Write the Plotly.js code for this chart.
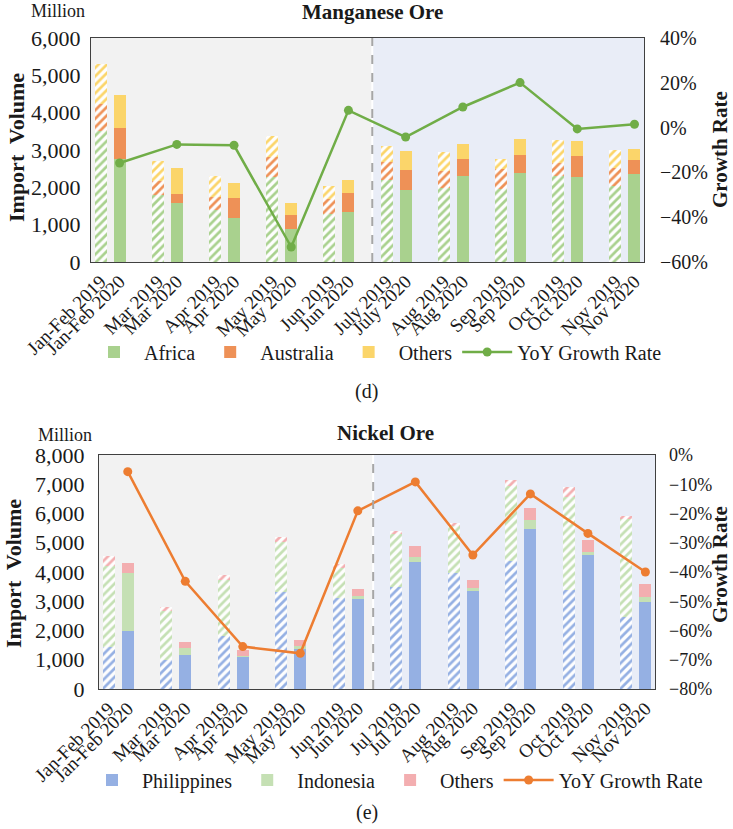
<!DOCTYPE html>
<html>
<head>
<meta charset="utf-8">
<script src="https://cdn.plot.ly/plotly-3.0.1.min.js"></script>
<style>html,body{margin:0;padding:0;background:#fff;}#chart{width:733px;height:829px;}</style>
</head>
<body>
<div id="chart"></div>
<script>
// ---------- Data ----------
var periodsMn = ["Jan-Feb","Mar","Apr","May","Jun","July","Aug","Sep","Oct","Nov"];
var periodsNi = ["Jan-Feb","Mar","Apr","May","Jun","Jul","Aug","Sep","Oct","Nov"];

// Manganese ore (million)
var africa2019    = [3500,1800,1380,2290,1280,2190,1980,1960,2300,2040];
var australia2019 = [740,360,360,530,410,490,450,540,350,490];
var othersMn2019  = [1070,540,560,550,350,430,510,260,610,480];
var africa2020    = [2760,1580,1180,890,1350,1940,2300,2390,2280,2370];
var australia2020 = [830,250,530,380,510,530,460,480,570,350];
var othersMn2020  = [870,680,410,310,330,490,410,420,390,320];
var growthMn      = [-15.8,-7.5,-7.9,-53.3,7.7,-4.2,9.2,20.1,-0.6,1.5];

// Nickel ore (million)
var phil2019     = [1420,990,1810,3320,3110,3500,3950,4380,3380,2470];
var indo2019     = [2800,1680,1910,1720,1020,1790,1620,2560,3190,3330];
var othersNi2019 = [330,150,180,150,130,110,90,210,340,110];
var phil2020     = [1990,1160,1110,1360,3070,4350,3350,5480,4580,2960];
var indo2020     = [1980,250,30,110,110,150,110,300,110,170];
var othersNi2020 = [330,180,190,210,250,400,250,420,390,450];
var growthNi     = [-5.7,-43.2,-65.5,-67.8,-19.1,-9.2,-34.2,-13.3,-26.8,-40.0];

// ---------- Helpers ----------
var FONT = "Liberation Serif";
var TXT = "#1a1a1a";
var x19 = periodsMn.map(function(_, i){ return i*3; });
var x20 = periodsMn.map(function(_, i){ return i*3 + 1; });
function tickVals(){ var v=[]; for (var i=0;i<10;i++){ v.push(i*3, i*3+1);} return v; }
function tickText(p){ var t=[]; p.forEach(function(m){ t.push(m+" 2019", m+" 2020"); }); return t; }

function hatchBar(x, y, color, xa, ya){
  return {type:"bar", x:x, y:y, xaxis:xa, yaxis:ya, width:0.63, showlegend:false, hoverinfo:"skip",
    marker:{color:"rgba(255,255,255,0.95)", line:{width:0},
      pattern:{shape:"/", fgcolor:color, bgcolor:"rgba(255,255,255,0.95)", size:6, solidity:0.45}}};
}
function solidBar(x, y, color, name, xa, ya, lg){
  return {type:"bar", x:x, y:y, xaxis:xa, yaxis:ya, width:0.63, name:name, legend:lg,
    marker:{color:color, line:{width:0}}};
}

var cAfrica="#a9d18e", cAus="#ee9157", cOthMn="#fbd56a", cLineMn="#70ad47";
var cPhil="#95b0e3", cIndo="#c5e0b4", cOthNi="#f3aeb0", cLineNi="#ed7d31";

var traces = [
  hatchBar(x19, africa2019, cAfrica, "x", "y"),
  hatchBar(x19, australia2019, cAus, "x", "y"),
  hatchBar(x19, othersMn2019, cOthMn, "x", "y"),
  solidBar(x20, africa2020, cAfrica, "Africa", "x", "y", "legend"),
  solidBar(x20, australia2020, cAus, "Australia", "x", "y", "legend"),
  solidBar(x20, othersMn2020, cOthMn, "Others", "x", "y", "legend"),
  {type:"scatter", mode:"lines+markers", x:x20, y:growthMn, xaxis:"x", yaxis:"y2", name:"YoY Growth Rate",
    legend:"legend", line:{color:cLineMn, width:2.5}, marker:{color:cLineMn, size:9}},

  hatchBar(x19, phil2019, cPhil, "x2", "y3"),
  hatchBar(x19, indo2019, cIndo, "x2", "y3"),
  hatchBar(x19, othersNi2019, cOthNi, "x2", "y3"),
  solidBar(x20, phil2020, cPhil, "Philippines", "x2", "y3", "legend2"),
  solidBar(x20, indo2020, cIndo, "Indonesia", "x2", "y3", "legend2"),
  solidBar(x20, othersNi2020, cOthNi, "Others", "x2", "y3", "legend2"),
  {type:"scatter", mode:"lines+markers", x:x20, y:growthNi, xaxis:"x2", yaxis:"y4", name:"YoY Growth Rate",
    legend:"legend2", line:{color:cLineNi, width:2.5}, marker:{color:cLineNi, size:9}}
];

// ---------- Layout ----------
var W=733, H=829;
function px(x){ return x/W; }
function py(y){ return 1 - y/H; }
var frame = "#404040";
var leftFont = {family:FONT, size:22, color:TXT};
var xTickFont = {family:FONT, size:19, color:TXT};

function xAxis(dom, anchor, periods){
  return {domain:dom, anchor:anchor, range:[-0.5,28.5], tickmode:"array", tickvals:tickVals(),
    ticktext:tickText(periods), tickangle:-45, tickfont:xTickFont, showgrid:false, zeroline:false,
    showline:true, mirror:true, linecolor:frame, linewidth:1, ticks:"", fixedrange:true};
}
function yLeft(dom, anchor, rng, stand){
  return {domain:dom, anchor:anchor, range:rng, dtick:1000, tickformat:",d", tickfont:leftFont,
    showgrid:false, zeroline:false, showline:true, mirror:true, linecolor:frame, linewidth:1, ticks:"",
    ticklabelstandoff:stand};
}
function yRight(over, anchor, rng, dt, stand, fs){
  return {overlaying:over, anchor:anchor, side:"right", range:rng, dtick:dt, ticksuffix:"%",
    tickfont:{family:FONT, size:fs, color:TXT}, showgrid:false, zeroline:false, showline:false, ticks:"",
    ticklabelstandoff:stand};
}

var domX1=[px(91), px(644)], domY1=[py(262), py(38)];
var domX2=[px(99), px(655)], domY2=[py(689), py(455)];

function ann(text, x, y, size, bold, angle){
  return {text: bold ? "<b>"+text+"</b>" : text, x:px(x), y:py(y), xref:"paper", yref:"paper",
    xanchor:"center", yanchor:"middle", showarrow:false, textangle:angle||0,
    font:{family:FONT, size:size, color:TXT}};
}

var layout = {
  width:W, height:H, margin:{l:0,r:0,t:0,b:0}, paper_bgcolor:"#fff", plot_bgcolor:"rgba(0,0,0,0)",
  barmode:"stack", separators:".,", font:{family:FONT, color:TXT},
  xaxis: xAxis(domX1, "y", periodsMn),
  yaxis: yLeft(domY1, "x", [0,6000], 5),
  yaxis2: yRight("y", "x", [-60,40], 20, 15, 20),
  xaxis2: xAxis(domX2, "y3", periodsNi),
  yaxis3: yLeft(domY2, "x2", [0,8000], 9),
  yaxis4: yRight("y3", "x2", [-80,0], 10, 13, 18),
  legend:{orientation:"h", x:px(84), y:py(352), xanchor:"left", yanchor:"middle", traceorder:"normal",
    font:{family:FONT, size:20, color:TXT}, bgcolor:"rgba(0,0,0,0)", itemwidth:50},
  legend2:{orientation:"h", x:px(82), y:py(780), xanchor:"left", yanchor:"middle", traceorder:"normal",
    font:{family:FONT, size:20, color:TXT}, bgcolor:"rgba(0,0,0,0)", itemwidth:50},
  shapes:[
    {type:"rect", xref:"x", yref:"y domain", x0:-0.5, x1:14.2, y0:0, y1:1, fillcolor:"#f2f2f2", line:{width:0}, layer:"below"},
    {type:"rect", xref:"x", yref:"y domain", x0:14.3, x1:28.5, y0:0, y1:1, fillcolor:"#e9edf7", line:{width:0}, layer:"below"},
    {type:"line", xref:"x", yref:"y domain", x0:14.25, x1:14.25, y0:0, y1:1, line:{color:"#a6a6a6", width:2, dash:"dash"}},
    {type:"rect", xref:"x2", yref:"y3 domain", x0:-0.5, x1:13.75, y0:0, y1:1, fillcolor:"#f2f2f2", line:{width:0}, layer:"below"},
    {type:"rect", xref:"x2", yref:"y3 domain", x0:13.85, x1:28.5, y0:0, y1:1, fillcolor:"#e9edf7", line:{width:0}, layer:"below"},
    {type:"line", xref:"x2", yref:"y3 domain", x0:13.8, x1:13.8, y0:0, y1:1, line:{color:"#a6a6a6", width:2, dash:"dash"}}
  ],
  annotations:[
    ann("Manganese Ore", 372, 12, 21, true),
    ann("Million", 58, 11, 18, false),
    ann("Import  Volume", 16, 148, 22, true, -90),
    ann("Growth Rate", 720, 150, 21, true, -90),
    ann("(d)", 366, 392, 20, false),
    ann("Nickel Ore", 385, 433, 21, true),
    ann("Million", 65, 435, 18, false),
    ann("Import  Volume", 13, 574, 22, true, -90),
    ann("Growth Rate", 720, 565, 21, true, -90),
    ann("(e)", 367, 812, 20, false)
  ]
};

Plotly.newPlot("chart", traces, layout, {displayModeBar:false, staticPlot:true});
</script>
</body>
</html>
